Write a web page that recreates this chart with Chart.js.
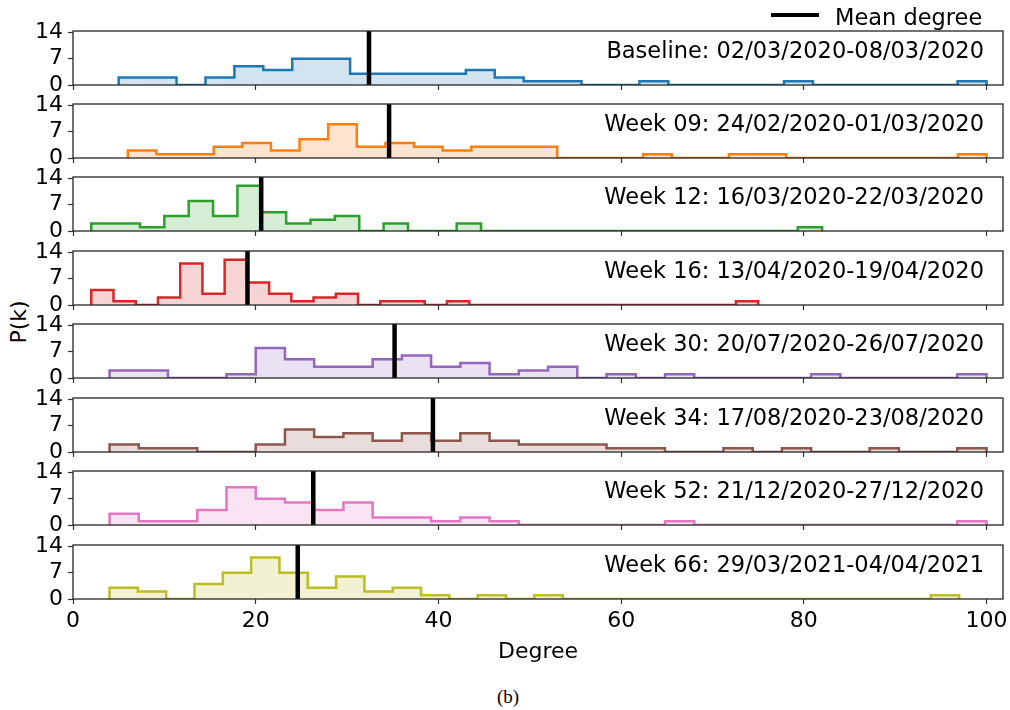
<!DOCTYPE html>
<html>
<head>
<meta charset="utf-8">
<script src="https://cdn.jsdelivr.net/npm/chart.js@4.4.1/dist/chart.umd.min.js"></script>
<style>
body { margin: 0; background: #fff; }
#wrap { position: relative; width: 1010px; height: 710px; overflow: hidden; font-family: "DejaVu Sans"; }
canvas { position: absolute; left: 0; }
#ylab { position: absolute; left: 18px; top: 322px; transform: translate(-50%, -50%) rotate(-90deg); font-size: 22px; white-space: nowrap; }
#cap { position: absolute; top: 686px; left: 497px; font-family: "Liberation Serif"; font-size: 19px; line-height: 22px; }
</style>
</head>
<body>
<div id="wrap">
  <div id="ylab">P(k)</div>
  <div id="cap">(b)</div>
</div>
<script>
// panel titles
var panelTitles = [
    'Baseline: 02/03/2020-08/03/2020',
    'Week 09: 24/02/2020-01/03/2020',
    'Week 12: 16/03/2020-22/03/2020',
    'Week 16: 13/04/2020-19/04/2020',
    'Week 30: 20/07/2020-26/07/2020',
    'Week 34: 17/08/2020-23/08/2020',
    'Week 52: 21/12/2020-27/12/2020',
    'Week 66: 29/03/2021-04/04/2021'
];

// 30 equal bins between min and max degree of each week
var nBins = 30;
var binMin = [5, 6, 2, 2, 4, 4, 4, 4];
var binMax = [100, 100, 82, 75, 100, 100, 100, 97];

// counts per bin
var baseline = [2,2,0,2,5,4,7,7,3,3,3,3,4,2,1,1,0,0,1,0,0,0,0,1,0,0,0,0,0,1];
var week09   = [2,1,1,3,4,2,5,9,3,4,3,2,3,3,3,0,0,0,1,0,0,1,1,0,0,0,0,0,0,1];
var week12   = [2,2,1,4,8,4,12,5,2,3,4,0,2,0,0,2,0,0,0,0,0,0,0,0,0,0,0,0,0,1];
var week16   = [4,1,0,2,11,3,12,6,3,1,2,3,0,1,1,0,1,0,0,0,0,0,0,0,0,0,0,0,0,1];
var week30   = [2,2,0,0,1,8,5,3,3,5,6,3,4,1,2,3,0,1,0,1,0,0,0,0,1,0,0,0,0,1];
var week34   = [2,1,1,0,0,2,6,4,5,3,5,3,5,3,2,2,2,1,1,0,0,1,0,1,0,0,1,0,0,1];
var week52   = [3,1,1,4,10,7,6,4,6,2,2,1,2,1,0,0,0,0,0,1,0,0,0,0,0,0,0,0,0,1];
var week66   = [3,2,0,4,7,11,7,3,6,2,3,1,0,1,0,1,0,0,0,0,0,0,0,0,0,0,0,0,0,1];

var meanDegree = [32.4, 34.6, 20.6, 19.1, 35.2, 39.4, 26.3, 24.6];

var xTicks = [0, 20, 40, 60, 80, 100];
var yTicks = [0, 7, 14];

var counts = [baseline, week09, week12, week16, week30, week34, week52, week66];
var lineColors = ['#1f77b4', '#ff7f0e', '#2ca02c', '#d62728', '#9467bd', '#8c564b', '#e377c2', '#bcbd22'];

// layout
var panelTop = [31, 104, 177, 251, 324, 398, 471, 545];
var panelH = 54;
var xMax = 101.8;
var yMax = 14.35;
var font = '"DejaVu Sans"';

function fade(hex, a) {
    var n = parseInt(hex.slice(1), 16);
    return 'rgba(' + (n >> 16) + ',' + ((n >> 8) & 255) + ',' + (n & 255) + ',' + a + ')';
}

// frame, panel title and the figure legend
var framePlugin = {
    id: 'frame',
    afterDatasetsDraw: function(chart) {
        var a = chart.chartArea, ctx = chart.ctx;
        ctx.save();
        ctx.strokeStyle = '#262626';
        ctx.lineWidth = 1.3;
        ctx.strokeRect(a.left, a.top, a.right - a.left, a.bottom - a.top);
        ctx.restore();
    },
    afterDraw: function(chart, args, opts) {
        var a = chart.chartArea, ctx = chart.ctx;
        ctx.save();
        ctx.fillStyle = '#000';
        ctx.font = '22.5px ' + font;
        ctx.textAlign = 'right';
        ctx.textBaseline = 'alphabetic';
        ctx.fillText(opts.title, a.right - 19, a.top + 27);
        if (opts.legend) {
            ctx.strokeStyle = '#000';
            ctx.lineWidth = 4;
            ctx.beginPath();
            ctx.moveTo(a.right - 232, a.top - 16);
            ctx.lineTo(a.right - 184, a.top - 16);
            ctx.stroke();
            ctx.textAlign = 'left';
            ctx.fillText(chart.data.datasets[0].label, a.right - 168, a.top - 6);
        }
        ctx.restore();
    }
};

var wrap = document.getElementById('wrap');

counts.forEach(function(h, i) {
    var last = i === counts.length - 1;
    var padTop = i === 0 ? panelTop[0] : 12;
    var xh = last ? 68 : 12;
    var cv = document.createElement('canvas');
    cv.width = 1010;
    cv.height = padTop + panelH + xh;
    cv.style.top = (panelTop[i] - padTop) + 'px';
    wrap.appendChild(cv);

    var edges = [];
    for (var k = 0; k <= nBins; k++) edges.push(binMin[i] + (binMax[i] - binMin[i]) * k / nBins);
    var pts = [{x: edges[0], y: 0}];
    h.forEach(function(v, k) { pts.push({x: edges[k], y: v}); });
    pts.push({x: edges[nBins], y: 0});

    new Chart(cv, {
        type: 'line',
        data: {
            datasets: [{
                label: 'Mean degree',
                data: [{x: meanDegree[i], y: 0}, {x: meanDegree[i], y: yMax}],
                borderColor: '#000',
                borderWidth: 4.5,
                borderCapStyle: 'butt',
                pointRadius: 0,
                fill: false
            }, {
                label: panelTitles[i],
                data: pts,
                stepped: true,
                borderColor: lineColors[i],
                backgroundColor: fade(lineColors[i], 0.2),
                borderWidth: 2.5,
                borderJoinStyle: 'miter',
                pointRadius: 0,
                fill: 'origin'
            }]
        },
        options: {
            responsive: false,
            animation: false,
            devicePixelRatio: 1,
            layout: { padding: { left: 0, right: 7, top: padTop, bottom: 0 } },
            plugins: {
                legend: { display: false },
                tooltip: { enabled: false },
                frame: { title: panelTitles[i], legend: i === 0 }
            },
            scales: {
                x: {
                    type: 'linear',
                    min: 0,
                    max: xMax,
                    afterBuildTicks: function(s) { s.ticks = xTicks.map(function(v) { return {value: v}; }); },
                    afterFit: function(s) { s.height = xh; s.paddingLeft = 0; s.paddingRight = 0; },
                    border: { display: false },
                    grid: { display: true, drawOnChartArea: false, drawTicks: true, tickLength: 5, tickColor: '#333', tickWidth: 1.2 },
                    ticks: { display: last, autoSkip: false, maxRotation: 0, color: '#000', padding: 4, font: { family: font, size: 22 } },
                    title: { display: last, text: 'Degree', color: '#000', padding: { top: 0, bottom: 2 }, font: { family: font, size: 22 } }
                },
                y: {
                    min: 0,
                    max: yMax,
                    afterBuildTicks: function(s) { s.ticks = yTicks.map(function(v) { return {value: v}; }); },
                    afterFit: function(s) { s.width = 73; s.paddingTop = 0; s.paddingBottom = 0; },
                    border: { display: false },
                    grid: { display: true, drawOnChartArea: false, drawTicks: true, tickLength: 5, tickColor: '#333', tickWidth: 1.2 },
                    ticks: { autoSkip: false, color: '#000', padding: 5, font: { family: font, size: 22 } }
                }
            }
        },
        plugins: [framePlugin]
    });
});
</script>
</body>
</html>
